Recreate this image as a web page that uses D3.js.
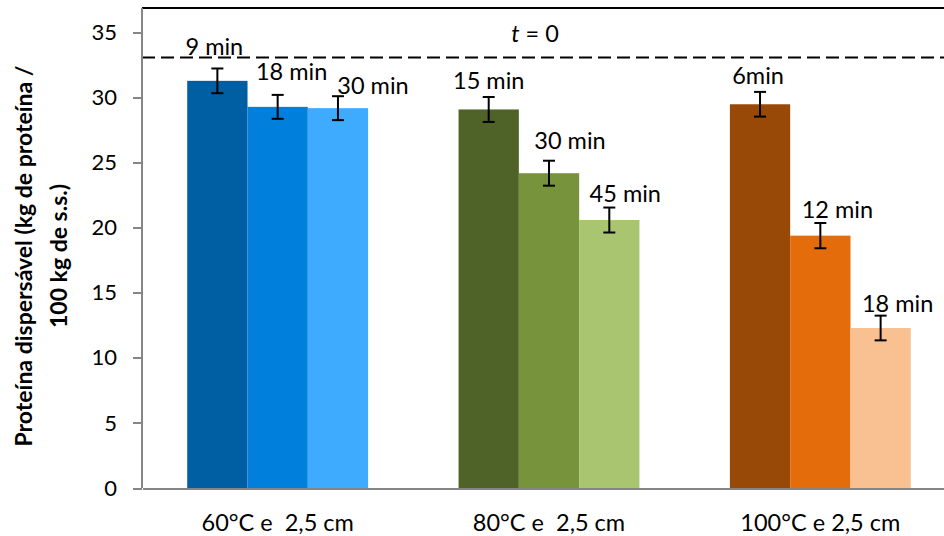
<!DOCTYPE html>
<html lang="pt">
<head>
    <meta charset="UTF-8">
    <title>Proteína dispersável</title>
    <script src="https://d3js.org/d3.v7.min.js" charset="utf-8"></script>
    <style>
        body { margin: 0; background: #fff; }
        svg text { font-family: Lato, "Open Sans", sans-serif; fill: #000; }
        .axis path, .axis line { fill: none; stroke: #868686; stroke-width: 2; shape-rendering: crispEdges; }
        .axis text { font-size: 22px; }
        .xaxis text { font-size: 23.5px; }
    </style>
</head>
<body>
<script>
    // dados
    let categories = ['60°C e  2,5 cm', '80°C e  2,5 cm', '100°C e 2,5 cm'];
    let values = [[31.3, 29.3, 29.2], [29.1, 24.2, 20.6], [29.5, 19.4, 12.3]];
    let errors = [[0.95, 0.92, 0.92], [0.96, 0.96, 0.96], [0.95, 0.97, 0.95]];
    let timeLabels = [['9 min', '18 min', '30 min'], ['15 min', '30 min', '45 min'], ['6min', '12 min', '18 min']];
    let colors = [['#005ea2', '#017fdc', '#3eabff'], ['#4f6228', '#77933c', '#a9c56f'], ['#984807', '#e46c0a', '#f9c091']];
    let tZero = 33.1;
    let yTicks = [0, 5, 10, 15, 20, 25, 30, 35];

    // deslocamento manual dos rótulos (dx, dy em relação ao topo da barra de erro)
    let labelNudge = [[[-3, -13], [14, -15], [35, -2]], [[0, -8], [21, -12], [16, -6]], [[-2, -8], [17, -5], [17, -4]]];

    var width = 944, height = 536;
    var margin = {left: 142, top: 8, right: -12, bottom: 48};
    var svg = d3.select('body').append('svg').attr('width', width).attr('height', height);

    let x = d3.scaleBand().domain(categories).range([margin.left, width - margin.right]);
    let xSub = d3.scaleBand().domain([0, 1, 2]).range([x.bandwidth() / 6, x.bandwidth() * 5 / 6]);
    let y = d3.scaleLinear().domain([0, 36.9]).range([height - margin.bottom, margin.top]);

    // borda superior
    svg.append('line')
        .attr('x1', margin.left).attr('x2', width)
        .attr('y1', margin.top).attr('y2', margin.top)
        .attr('stroke', '#000').attr('stroke-width', 2);

    // barras
    let groups = svg.selectAll('g.grp')
        .data(categories).enter()
        .append('g')
        .attr('class', 'grp')
        .attr('transform', function (d) { return 'translate(' + x(d) + ',0)'; });

    groups.each(function (c, i) {
        let g = d3.select(this);
        let rows = values[i].map(function (v, j) {
            return {v: v, e: errors[i][j], t: timeLabels[i][j], c: colors[i][j], j: j, n: labelNudge[i][j]};
        });
        g.selectAll('rect')
            .data(rows).enter()
            .append('rect')
            .attr('x', function (d) { return xSub(d.j); })
            .attr('y', function (d) { return y(d.v); })
            .attr('width', xSub.bandwidth())
            .attr('height', function (d) { return y(0) - y(d.v); })
            .attr('fill', function (d) { return d.c; });

        let eb = g.selectAll('g.err')
            .data(rows).enter()
            .append('g')
            .attr('class', 'err')
            .attr('stroke', '#000').attr('stroke-width', 2);
        eb.append('line')
            .attr('x1', function (d) { return xSub(d.j) + xSub.bandwidth() / 2; })
            .attr('x2', function (d) { return xSub(d.j) + xSub.bandwidth() / 2; })
            .attr('y1', function (d) { return y(d.v + d.e); })
            .attr('y2', function (d) { return y(d.v - d.e); });
        [1, -1].forEach(function (s) {
            eb.append('line')
                .attr('x1', function (d) { return xSub(d.j) + xSub.bandwidth() / 2 - 6; })
                .attr('x2', function (d) { return xSub(d.j) + xSub.bandwidth() / 2 + 6; })
                .attr('y1', function (d) { return y(d.v + s * d.e); })
                .attr('y2', function (d) { return y(d.v + s * d.e); });
        });

        g.selectAll('text.lbl')
            .data(rows).enter()
            .append('text')
            .attr('class', 'lbl')
            .attr('x', function (d) { return xSub(d.j) + xSub.bandwidth() / 2 + d.n[0]; })
            .attr('y', function (d) { return y(d.v + d.e) + d.n[1]; })
            .attr('text-anchor', 'middle')
            .style('font-size', '23.5px')
            .text(function (d) { return d.t; });
    });

    // linha t = 0
    svg.append('line')
        .attr('x1', margin.left).attr('x2', width)
        .attr('y1', y(tZero)).attr('y2', y(tZero))
        .attr('stroke', '#000').attr('stroke-width', 2)
        .attr('stroke-dasharray', '13,6');
    let tLabel = svg.append('text')
        .attr('x', 535).attr('y', 42)
        .attr('text-anchor', 'middle')
        .style('font-size', '23.5px');
    tLabel.append('tspan').style('font-style', 'italic').text('t');
    tLabel.append('tspan').text(' = 0');

    // eixos
    let yAxis = d3.axisLeft(y).tickValues(yTicks).tickSize(9).tickPadding(16);
    svg.append('g')
        .attr('class', 'axis')
        .attr('transform', 'translate(' + margin.left + ',0)')
        .call(yAxis)
        .call(function (g) { g.select('.domain').attr('d', 'M0,' + margin.top + 'V' + y(0)); });

    let xAxis = d3.axisBottom(x).tickSize(0).tickPadding(26);
    svg.append('g')
        .attr('class', 'axis xaxis')
        .attr('transform', 'translate(0,' + y(0) + ')')
        .call(xAxis)
        .call(function (g) { g.selectAll('text').attr('xml:space', 'preserve').style('white-space', 'pre'); });

    // título do eixo y
    let yTitle = svg.append('text')
        .attr('transform', 'translate(0,256) rotate(-90)')
        .attr('text-anchor', 'middle')
        .style('font-size', '23px')
        .style('font-weight', 'bold');
    yTitle.append('tspan').attr('x', 0).attr('y', 32).text('Proteína dispersável (kg de proteína /');
    yTitle.append('tspan').attr('x', 0).attr('y', 67).text('100 kg de s.s.)');
</script>
</body>
</html>
